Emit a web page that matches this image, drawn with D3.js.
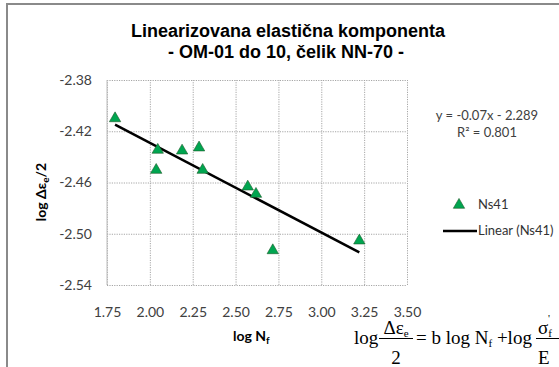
<!DOCTYPE html>
<html><head><meta charset="utf-8">
<script src="https://cdn.jsdelivr.net/npm/d3@7"></script>
<style>
html,body{margin:0;padding:0;background:#fff;overflow:hidden}
svg{display:block}
</style></head>
<body>
<script>
// ---- data ----
const logNf = [1.797, 2.046, 2.037, 2.188, 2.287, 2.308, 2.571, 2.619, 2.717, 3.222];
const logEps = [-2.410, -2.4346, -2.4503, -2.4352, -2.4328, -2.4503, -2.4633, -2.469, -2.513, -2.5054];
const xTicks = [1.75, 2.00, 2.25, 2.50, 2.75, 3.00, 3.25, 3.50];
const yTicks = [-2.38, -2.42, -2.46, -2.50, -2.54];
const trendSlope = -0.07;
const trendIntercept = -2.289;
const rSquared = 0.801;
const seriesName = "Ns41";
const titleLines = ["Linearizovana elastična komponenta", "- OM-01 do 10, čelik NN-70 -"];

const W = 559, H = 367;
const svg = d3.select("body").append("svg").attr("width", W).attr("height", H);
const fmt = d => d3.format(".2f")(d).replace("\u2212", "-");

// outer frame
svg.append("path").attr("d", "M7,372 L7,4 L565,4").attr("fill", "none")
  .attr("stroke", "#8a8a8a").attr("stroke-width", 2);

const x = d3.scaleLinear().domain([1.75, 3.5]).range([107, 407]);
const y = d3.scaleLinear().domain([-2.54, -2.38]).range([285, 80]);

// grid
const g = svg.append("g");
g.append("g").attr("transform", "translate(0,285)")
  .call(d3.axisBottom(x).tickValues(xTicks).tickSize(-205).tickFormat(""))
  .call(a => a.select(".domain").remove())
  .call(a => a.selectAll("line").attr("stroke", "#a6a6a6").attr("stroke-dasharray", "1.2,1.2"));
g.append("g").attr("transform", "translate(107,0)")
  .call(d3.axisLeft(y).tickValues(yTicks).tickSize(-300).tickFormat(""))
  .call(a => a.select(".domain").remove())
  .call(a => a.selectAll("line").attr("stroke", "#a6a6a6").attr("stroke-dasharray", "1.2,1.2"));
g.append("line").attr("x1", 107).attr("x2", 107).attr("y1", 80).attr("y2", 285)
  .attr("stroke", "#bdbdbd").attr("stroke-width", 1);

// tick labels
svg.append("g").attr("transform", "translate(92,0)")
  .call(d3.axisLeft(y).tickValues(yTicks).tickSize(0).tickPadding(0).tickFormat(fmt))
  .call(a => a.select(".domain").remove())
  .call(a => a.selectAll("text").attr("font-family", "Lato").attr("font-size", 14).attr("fill", "#404040").attr("text-anchor", "end"));
svg.append("g").attr("transform", "translate(0,307)")
  .call(d3.axisBottom(x).tickValues(xTicks).tickSize(0).tickPadding(0).tickFormat(fmt))
  .call(a => a.select(".domain").remove())
  .call(a => a.selectAll("text").attr("font-family", "Lato").attr("font-size", 14).attr("fill", "#404040"));

// trendline
const xr = d3.extent(logNf);
svg.append("line")
  .attr("x1", x(xr[0])).attr("y1", y(trendSlope * xr[0] + trendIntercept))
  .attr("x2", x(xr[1])).attr("y2", y(trendSlope * xr[1] + trendIntercept))
  .attr("stroke", "#000").attr("stroke-width", 2.5);

// markers
const tri = d3.symbol().type(d3.symbolTriangle).size(56);
svg.append("g").selectAll("path").data(logNf).join("path")
  .attr("d", tri)
  .attr("transform", (d, i) => `translate(${x(d)},${y(logEps[i])})`)
  .attr("fill", "#00a550").attr("stroke", "#1e5a2a").attr("stroke-width", 0.6);

// title
svg.append("text").attr("x", 288).attr("y", 37).attr("text-anchor", "middle")
  .attr("font-family", "Liberation Sans, Arial").attr("font-weight", "bold").attr("font-size", 18).attr("fill", "#000").text(titleLines[0]);
svg.append("text").attr("x", 286).attr("y", 58).attr("text-anchor", "middle")
  .attr("font-family", "Liberation Sans, Arial").attr("font-weight", "bold").attr("font-size", 18).attr("fill", "#000").text(titleLines[1]);

// y axis title
const yt = svg.append("text").attr("transform", "translate(46,192) rotate(-90)").attr("text-anchor", "middle")
  .attr("font-family", "Lato").attr("font-weight", "bold").attr("font-size", 14).attr("fill", "#000");
yt.append("tspan").text("log Δε");
yt.append("tspan").attr("font-size", 10).attr("dy", 3).text("e");
yt.append("tspan").attr("dy", -3).text("/2");

// x axis title
const xt = svg.append("text").attr("x", 233).attr("y", 341)
  .attr("font-family", "Lato").attr("font-weight", "bold").attr("font-size", 14).attr("fill", "#000");
xt.append("tspan").text("log  N");
xt.append("tspan").attr("font-size", 10).attr("dy", 3).text("f");

// trend equation
svg.append("text").attr("x", 487).attr("y", 120).attr("text-anchor", "middle")
  .attr("font-family", "Lato").attr("font-size", 13).attr("fill", "#404040")
  .text(`y = ${trendSlope}x - ${Math.abs(trendIntercept)}`);
svg.append("text").attr("x", 487).attr("y", 137).attr("text-anchor", "middle")
  .attr("font-family", "Lato").attr("font-size", 13).attr("fill", "#404040")
  .text(`R² = ${rSquared}`);

// legend
svg.append("path").attr("d", tri).attr("transform", "translate(459,205)")
  .attr("fill", "#00a550").attr("stroke", "#1e5a2a").attr("stroke-width", 0.6);
svg.append("text").attr("x", 478).attr("y", 209).attr("font-family", "Lato").attr("font-size", 13)
  .attr("fill", "#333").text(seriesName);
svg.append("line").attr("x1", 443).attr("x2", 477).attr("y1", 231).attr("y2", 231)
  .attr("stroke", "#000").attr("stroke-width", 2.5);
svg.append("text").attr("x", 478).attr("y", 235).attr("font-family", "Lato").attr("font-size", 13)
  .attr("fill", "#333").text(`Linear (${seriesName})`);

// formula (serif)
const fs = 19, ff = "Liberation Serif, Times New Roman";
const eq = svg.append("g").attr("font-family", ff).attr("font-size", fs).attr("fill", "#000");
eq.append("text").attr("x", 354).attr("y", 344).text("log");
const n1 = eq.append("text").attr("x", 396).attr("y", 334).attr("text-anchor", "middle");
n1.append("tspan").text("Δε");
n1.append("tspan").attr("font-size", 11).attr("dy", 3).text("e");
eq.append("line").attr("x1", 379).attr("x2", 413).attr("y1", 338.5).attr("y2", 338.5).attr("stroke", "#000").attr("stroke-width", 1);
eq.append("text").attr("x", 396).attr("y", 364).attr("text-anchor", "middle").text("2");
const mid = eq.append("text").attr("x", 416).attr("y", 344);
mid.append("tspan").text("= b log N");
mid.append("tspan").attr("font-size", 11).attr("dy", 3).text("f");
mid.append("tspan").attr("dy", -3).text(" +log");
const n2 = eq.append("text").attr("x", 538).attr("y", 334);
n2.append("tspan").text("σ");
n2.append("tspan").attr("font-size", 11).attr("dy", 3).text("f");
eq.append("text").attr("x", 548).attr("y", 322).attr("font-size", 11).text("'");
eq.append("line").attr("x1", 536).attr("x2", 562).attr("y1", 338.5).attr("y2", 338.5).attr("stroke", "#000").attr("stroke-width", 1);
eq.append("text").attr("x", 538).attr("y", 364).text("E");
</script>
</body></html>
